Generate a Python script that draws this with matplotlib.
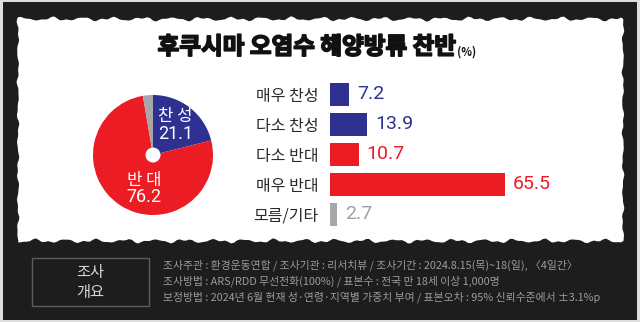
import numpy as np
import matplotlib
matplotlib.use('Agg')
import matplotlib.pyplot as plt
import matplotlib.patheffects as pe
from matplotlib.patches import Rectangle, Polygon, Circle

plt.rcParams['font.family'] = ['Noto Sans CJK KR', 'DejaVu Sans']

# 응답 데이터 (%)
categories = ['매우 찬성', '다소 찬성', '다소 반대', '매우 반대', '모름/기타']
values = [7.2, 13.9, 10.7, 65.5, 2.7]
groups = ['찬 성', '반 대', '모름']
group_values = [21.1, 76.2, 2.7]

title = '후쿠시마 오염수 해양방류 찬반'
notes = [
    '조사주관 : 환경운동연합 / 조사기관 : 리서치뷰 / 조사기간 : 2024.8.15(목)~18(일), 〈4일간〉',
    '조사방법 : ARS/RDD 무선전화(100%) / 표본수 : 전국 만 18세 이상 1,000명',
    '보정방법 : 2024년 6월 현재 성·연령·지역별 가중치 부여 / 표본오차 : 95% 신뢰수준에서 ±3.1%p',
]

BLUE = '#2e3192'
RED = '#ec1c24'
GRAY = '#a7a7a7'
bar_colors = [BLUE, BLUE, RED, RED, GRAY]
text_colors = [BLUE, BLUE, RED, RED, '#a0a0a0']

W, H = 640, 322
fig = plt.figure(figsize=(W / 100, H / 100), dpi=100, facecolor='#dedede')

# --- 배경: 검은 바탕 + 찢어진 종이 패널 ---
bg = fig.add_axes([0, 0, 1, 1])
bg.set_xlim(0, W)
bg.set_ylim(H, 0)
bg.axis('off')
bg.add_patch(Rectangle((3, 2), 634, 318, facecolor='#1d1d1d', edgecolor='none'))


def wobble(t, a):
    return a * (np.sin(t * 0.21) * 0.6 + np.sin(t * 0.53 + 1.3) * 0.3 + np.sin(t * 1.7 + 0.4) * 0.25)


xs = np.arange(18, 624, 3.0)
ys = np.arange(19, 242, 3.0)
top = [(x, 19 + wobble(x, 2.4)) for x in xs]
right = [(623 + wobble(y + 40, 1.3), y) for y in ys]
bottom = [(x, 241 + wobble(x + 77, 2.4)) for x in xs[::-1]]
left = [(18 + wobble(y + 150, 1.3), y) for y in ys[::-1]]
bg.add_patch(Polygon(top + right + bottom + left, closed=True,
                     facecolor='white', edgecolor='none'))

# 제목 (굵게 보이도록 외곽선 추가)
thick = [pe.withStroke(linewidth=1.2, foreground='#111111')]
t_main = bg.text(307, 47, title, fontsize=17, fontweight='heavy',
                 ha='center', va='center', color='#111111', path_effects=thick)
fig.canvas.draw()
bb = t_main.get_window_extent().transformed(bg.transData.inverted())
bg.text(bb.x1 + 1, 56, '(%)', fontsize=8, fontweight='bold',
        ha='left', va='baseline', color='#111111')

# --- 원그래프 ---
cx, cy, r = 153, 155, 60
ax_pie = fig.add_axes([(cx - r) / W, (H - cy - r) / H, 2 * r / W, 2 * r / H])
ax_pie.pie(group_values, colors=[BLUE, RED, GRAY], startangle=90,
           counterclock=False, radius=1,
           wedgeprops=dict(linewidth=0))
ax_pie.add_patch(Circle((0, 0), 0.125, facecolor='white', edgecolor='none'))
ax_pie.set_xlim(-1, 1)
ax_pie.set_ylim(-1, 1)
ax_pie.set_aspect('equal')
ax_pie.axis('off')

ax_pie.text(0.37, 0.64, groups[0], fontsize=12, color='white',
            ha='center', va='center', fontweight='medium')
ax_pie.text(0.37, 0.35, f'{group_values[0]:.1f}', fontsize=13, color='white',
            ha='center', va='center', family=['Roboto', 'DejaVu Sans'])
ax_pie.text(-0.14, -0.42, groups[1], fontsize=12, color='white',
            ha='center', va='center', fontweight='medium')
ax_pie.text(-0.16, -0.70, f'{group_values[1]:.1f}', fontsize=13, color='white',
            ha='center', va='center', family=['Roboto', 'DejaVu Sans'])

# --- 막대그래프 ---
px_per_unit = 2.67
bx0, by_top, by_bot = 330, 79.5, 229.0
ax_bar = fig.add_axes([bx0 / W, (H - by_bot) / H, 100 * px_per_unit / W, (by_bot - by_top) / H])
ax_bar.set_xlim(0, 100)
ax_bar.set_ylim(4.5, -0.5)
y = np.arange(len(categories))
ax_bar.barh(y, values, height=0.77, color=bar_colors)
ax_bar.set_yticks(y, categories)
ax_bar.tick_params(axis='y', length=0, pad=8, labelsize=11.5, labelcolor='#2a2a2a')
ax_bar.set_xticks([])
for s in ax_bar.spines.values():
    s.set_visible(False)
ax_bar.patch.set_alpha(0)

for yi, v, c in zip(y, values, text_colors):
    ax_bar.annotate(f'{v:.1f}', xy=(v, yi), xytext=(5.8, 0), textcoords='offset points',
                    ha='left', va='center', fontsize=14, color=c,
                    family=['Roboto', 'DejaVu Sans'], annotation_clip=False)

# --- 조사 개요 ---
bg.add_patch(Rectangle((32, 258), 117, 48, facecolor='none', edgecolor='#5e5e5e', linewidth=1))
bg.text(90, 273, '조사', fontsize=11, color='#d6d6d6', ha='center', va='center')
bg.text(90, 292, '개요', fontsize=11, color='#d6d6d6', ha='center', va='center')
for i, line in enumerate(notes):
    bg.text(163, 265 + i * 16, line, fontsize=7.8, color='#9c9c9c',
            ha='left', va='center')

fig.savefig('out.png', dpi=100, facecolor=fig.get_facecolor())
